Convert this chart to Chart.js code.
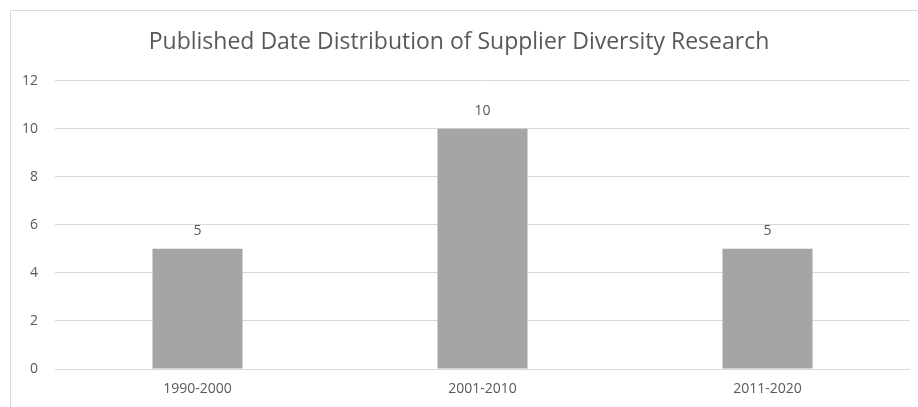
<!DOCTYPE html>
<html>
<head>
<meta charset="utf-8">
<script src="https://cdn.jsdelivr.net/npm/chart.js@4.4.0/dist/chart.umd.min.js"></script>
<style>
    html, body { margin: 0; padding: 0; background: #fff; }
    #wrap { position: relative; width: 918px; height: 407px; }
</style>
</head>
<body>
<div id="wrap"><canvas id="chart"></canvas></div>
<script>
    // Chart data
    var categories = ['1990-2000', '2001-2010', '2011-2020'];
    var counts = [5, 10, 5];
    var yTicks = [0, 2, 4, 6, 8, 10, 12];

    var FONT = '"Open Sans", "Noto Sans", sans-serif';
    var TEXT = '#595959';

    // Excel-like frame: only top and left edges fall inside the picture
    var framePlugin = {
        id: 'frame',
        beforeDraw: function (chart) {
            var ctx = chart.ctx;
            ctx.save();
            ctx.strokeStyle = '#d9d9d9';
            ctx.lineWidth = 1;
            ctx.beginPath();
            ctx.moveTo(10.5, chart.height);
            ctx.lineTo(10.5, 10.5);
            ctx.lineTo(chart.width, 10.5);
            ctx.stroke();
            ctx.restore();
        }
    };

    // Value labels above each bar
    var valueLabels = {
        id: 'valueLabels',
        afterDatasetsDraw: function (chart) {
            var ctx = chart.ctx;
            var meta = chart.getDatasetMeta(0);
            ctx.save();
            ctx.fillStyle = TEXT;
            ctx.font = '14px ' + FONT;
            ctx.textAlign = 'center';
            ctx.textBaseline = 'middle';
            meta.data.forEach(function (bar, i) {
                ctx.fillText(String(counts[i]), bar.x, bar.y - 18);
            });
            ctx.restore();
        }
    };

    new Chart(document.getElementById('chart'), {
        type: 'bar',
        data: {
            labels: categories,
            datasets: [{
                data: counts,
                backgroundColor: '#a5a5a5',
                borderWidth: 0,
                categoryPercentage: 1,
                barPercentage: 0.316
            }]
        },
        options: {
            responsive: true,
            maintainAspectRatio: false,
            animation: false,
            layout: { padding: { left: 8, right: 8, top: 0, bottom: 0 } },
            plugins: {
                legend: { display: false },
                tooltip: { enabled: false },
                title: {
                    display: true,
                    text: 'Published Date Distribution of Supplier Diversity Research',
                    color: TEXT,
                    font: { family: FONT, size: 23, weight: 'normal' },
                    padding: { top: 29, bottom: 24 }
                }
            },
            scales: {
                x: {
                    grid: { display: false, drawTicks: false },
                    border: { display: false },
                    ticks: { color: TEXT, font: { family: FONT, size: 14 }, padding: 12 },
                    afterFit: function (axis) { axis.height = 38; }
                },
                y: {
                    min: 0,
                    max: 12,
                    afterBuildTicks: function (axis) {
                        axis.ticks = yTicks.map(function (v) { return { value: v }; });
                    },
                    grid: { color: '#d9d9d9', drawTicks: false },
                    border: { display: false },
                    ticks: { color: TEXT, font: { family: FONT, size: 14 }, padding: 17 },
                    afterFit: function (axis) { axis.width = 47; }
                }
            }
        },
        plugins: [framePlugin, valueLabels]
    });
</script>
</body>
</html>
